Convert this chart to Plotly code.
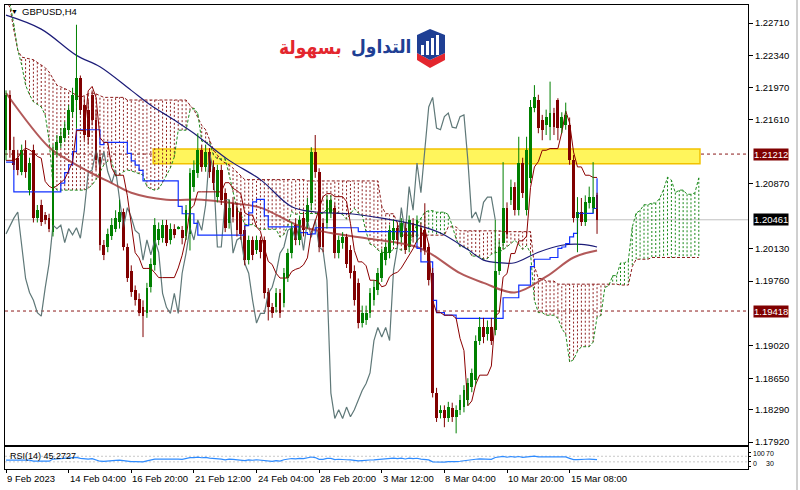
import numpy as np
import plotly.graph_objects as go

# ---------------- data (GBPUSD H4) ----------------
opens = [1.2126,1.2189,1.2126,1.2117,1.2101,1.2126,1.2080,1.2126,1.2048,1.2063,
1.2051,1.2048,1.2032,1.2126,1.2134,1.2140,1.2149,1.2169,1.2183,1.2208,
1.2177,1.2172,1.2189,1.2160,1.2118,1.2017,1.2015,1.2028,1.2036,1.2043,
1.2055,1.2015,1.1988,1.1966,1.1956,1.1946,1.1939,1.1969,1.1994,1.2023,
1.2025,1.2040,1.2023,1.2036,1.2036,1.2034,1.2028,1.2030,1.2084,1.2100,
1.2126,1.2106,1.2123,1.2106,1.2072,1.2103,1.2077,1.2042,1.2065,1.2060,
1.2055,1.2034,1.2000,1.2023,1.2011,1.2023,1.2023,1.1963,1.1946,1.1946,
1.1962,1.1951,1.1980,1.2008,1.2040,1.2023,1.2048,1.2043,1.2065,1.2123,
1.2101,1.2042,1.2042,1.2054,1.2060,1.2008,1.2019,1.2026,1.2011,1.1988,
1.1974,1.1928,1.1931,1.1939,1.1954,1.1966,1.1980,1.2000,1.2008,1.2023,
1.2037,1.2026,1.2037,1.2015,1.2042,1.2026,1.2037,1.2034,1.2015,1.1985,
1.1848,1.1825,1.1829,1.1819,1.1831,1.1821,1.1829,1.1832,1.1840,1.1855,
1.1863,1.1908,1.1923,1.1916,1.1923,1.1920,1.1988,1.2019,1.2060,1.2069,
1.2084,1.2057,1.2111,1.2057,1.2094,1.2174,1.2183,1.2160,1.2154,1.2152,
1.2168,1.2183,1.2151,1.2154,1.2154,1.2114,1.2048,1.2055,1.2043,1.2065,
1.2059,1.2074]
highs = [1.2194,1.2194,1.2141,1.2126,1.2132,1.2137,1.2117,1.2132,1.2063,1.2069,
1.2055,1.2053,1.2132,1.2143,1.2151,1.2158,1.2177,1.2197,1.2269,1.2211,
1.2185,1.2183,1.2194,1.2172,1.2126,1.2023,1.2036,1.2048,1.2057,1.2069,
1.2059,1.2019,1.1994,1.1971,1.1962,1.1954,1.1974,1.2002,1.2048,1.2043,
1.2046,1.2046,1.2042,1.2041,1.2039,1.2039,1.2063,1.2105,1.2114,1.2145,
1.2132,1.2132,1.2128,1.2114,1.2109,1.2109,1.2082,1.2069,1.2072,1.2066,
1.2059,1.2039,1.2028,1.2027,1.2028,1.2027,1.2027,1.1968,1.1951,1.1968,
1.1967,1.1991,1.2013,1.2043,1.2048,1.2051,1.2055,1.2071,1.2129,1.2143,
1.2105,1.2048,1.2074,1.2074,1.2065,1.2028,1.2032,1.2030,1.2017,1.1994,
1.1979,1.1948,1.1948,1.1968,1.1977,1.1991,1.2013,1.2020,1.2040,1.2046,
1.2043,1.2048,1.2043,1.2051,1.2048,1.2051,1.2043,1.2065,1.2019,1.1991,
1.1854,1.1834,1.1834,1.1838,1.1837,1.1834,1.1846,1.1857,1.1865,1.1876,
1.1914,1.1935,1.1934,1.1931,1.1934,1.2046,1.2023,1.2112,1.2066,1.2092,
1.2089,1.2141,1.2117,1.2141,1.2183,1.2200,1.2189,1.2166,1.2172,1.2204,
1.2174,1.2185,1.2169,1.2180,1.2163,1.2120,1.2072,1.2071,1.2074,1.2084,
1.2112,1.2077]
lows = [1.2114,1.2117,1.2103,1.2097,1.2097,1.2094,1.2074,1.2043,1.2043,1.2039,
1.2041,1.2032,1.2027,1.2118,1.2128,1.2135,1.2143,1.2163,1.2151,1.2166,
1.2137,1.2132,1.2154,1.2103,1.2011,1.2000,1.2009,1.2023,1.2032,1.2036,
1.2011,1.1975,1.1958,1.1948,1.1936,1.1912,1.1934,1.1963,1.1988,1.2017,
1.2020,1.2016,1.2018,1.2025,1.2035,1.2018,1.2023,1.2011,1.2078,1.2094,
1.2101,1.2101,1.2094,1.2080,1.2066,1.2063,1.2032,1.2036,1.2043,1.2027,
1.2023,1.1994,1.1995,1.2000,1.2007,1.2002,1.1956,1.1931,1.1934,1.1940,
1.1934,1.1946,1.1975,1.2002,1.2017,1.2017,1.2027,1.2036,1.2057,1.2094,
1.2009,1.2009,1.2036,1.2048,1.2002,1.2002,1.2013,1.1991,1.1979,1.1948,
1.1922,1.1923,1.1926,1.1934,1.1948,1.1960,1.1975,1.1994,1.2002,1.2017,
1.2017,1.2020,1.2007,1.2009,1.2020,1.2020,1.2009,1.2006,1.1971,1.1843,
1.1815,1.1819,1.1809,1.1815,1.1815,1.1802,1.1823,1.1826,1.1834,1.1849,
1.1857,1.1903,1.1905,1.1908,1.1903,1.1914,1.1983,1.2013,1.2025,1.2063,
1.2051,1.2051,1.2071,1.2051,1.2088,1.2169,1.2145,1.2137,1.2143,1.2137,
1.2143,1.2137,1.2145,1.2149,1.2109,1.2043,1.2009,1.2039,1.2039,1.2059,
1.2054,1.2030]
closes = [1.2189,1.2126,1.2109,1.2103,1.2126,1.2101,1.2111,1.2048,1.2057,1.2043,
1.2046,1.2036,1.2126,1.2135,1.2142,1.2151,1.2172,1.2189,1.2208,1.2172,
1.2143,1.2141,1.2160,1.2114,1.2017,1.2006,1.2030,1.2040,1.2048,1.2055,
1.2015,1.1979,1.1963,1.1954,1.1940,1.1936,1.1968,1.1996,1.2040,1.2036,
1.2040,1.2020,1.2036,1.2029,1.2037,1.2025,1.2057,1.2100,1.2103,1.2126,
1.2106,1.2124,1.2101,1.2088,1.2103,1.2069,1.2037,1.2060,1.2049,1.2034,
1.2030,1.2000,1.2023,1.2006,1.2023,1.2009,1.1962,1.1946,1.1939,1.1962,
1.1939,1.1985,1.2008,1.2037,1.2023,1.2046,1.2034,1.2063,1.2123,1.2101,
1.2015,1.2015,1.2069,1.2069,1.2008,1.2023,1.2026,1.1996,1.1985,1.1954,
1.1928,1.1939,1.1939,1.1962,1.1969,1.1985,1.2008,1.2015,1.2034,1.2037,
1.2023,1.2042,1.2011,1.2046,1.2026,1.2046,1.2015,1.2011,1.1977,1.1848,
1.1819,1.1829,1.1819,1.1832,1.1821,1.1829,1.1840,1.1851,1.1859,1.1871,
1.1908,1.1923,1.1912,1.1923,1.1908,1.1988,1.2015,1.2060,1.2030,1.2084,
1.2057,1.2111,1.2077,1.2126,1.2175,1.2186,1.2151,1.2149,1.2164,1.2168,
1.2152,1.2151,1.2164,1.2166,1.2114,1.2048,1.2055,1.2043,1.2066,1.2072,
1.2072,1.20461]

# indicator values before enough history exists
tenkan_prefix = [1.2114,1.2114,1.2114,1.2117,1.2124,1.2128,1.2126,1.2123]
kijun_prefix = [1.2112,1.2112] + [1.2078]*12 + [1.2088,1.2100,1.2109,1.2124] + [1.2149]*6 + [1.2132]
senkou_a_prefix = [1.2297,1.2294,1.2269,1.2240,1.2223,1.2200,1.2189,1.2181,1.2178,1.2175,
                   1.2166,1.2137,1.2086,1.2080,1.2080,1.2080,1.2080,1.2080,1.2080,1.2080,
                   1.2080,1.2082,1.2086,1.2092,1.2101,1.2109]
senkou_b_prefix = ([1.2297,1.2289,1.2263,1.2240,1.2232,1.2231,1.2230,1.2229,1.2226,1.2223,
                    1.2220,1.2215,1.2208,1.2200,1.2198,1.2196,1.2194,1.2191,1.2188,1.2186,
                    1.2188,1.2190,1.2191,1.2190,1.2188] + [1.2186]*6 + [1.2183]*16 +
                   [1.2177,1.2172,1.2163,1.2154,1.2149,1.2137,1.2126,1.2120,1.2114,1.2111,
                    1.2109,1.2105,1.2101,1.2096] + [1.2092]*16)

# moving averages (bar index, price)
ma_slow_idx = [0,9,18,24,32,37,43,48,57,65,73,79,88,96,105,111,118,122,126,130,136,142,147,151]
ma_slow_val = [1.2280,1.2264,1.2234,1.2221,1.2194,1.2177,1.2160,1.2145,1.2114,1.2092,1.2061,1.2055,
               1.2053,1.2048,1.2040,1.2031,1.2012,1.2000,1.1997,1.1997,1.2009,1.2017,1.2018,1.2015]
ma_fast_idx = [0,11,16,22,27,32,41,50,58,65,75,83,92,105,109,116,122,130,138,145,151]
ma_fast_val = [1.2191,1.2129,1.2114,1.2099,1.2088,1.2077,1.2069,1.2069,1.2065,1.2060,1.2039,1.2031,
               1.2025,1.2015,1.2006,1.1985,1.1974,1.1963,1.1981,1.2003,1.2011]

levels_dashed = [1.21212, 1.19418]
current_price = 1.20461
zone_start, zone_end = 37.6, 177.3
zone_low, zone_high = 1.2110, 1.2127

price_ticks = [1.22710,1.22340,1.21970,1.21610,1.20870,1.20130,
               1.19760,1.19020,1.18650,1.18290,1.17920]
rsi_ticks = [0, 30, 70, 100]
date_idx = [0,16,32,48,64,80,96,112,128,144]
date_labels = ["9 Feb 2023","14 Feb 04:00","16 Feb 20:00","21 Feb 12:00","24 Feb 04:00",
               "28 Feb 20:00","3 Mar 12:00","8 Mar 04:00","10 Mar 20:00","15 Mar 08:00"]

# ---------------- derived indicators ----------------
n = len(closes)
idx = list(range(n))

def hl_mid(i0, i1):
    return (max(highs[i0:i1 + 1]) + min(lows[i0:i1 + 1])) / 2

tenkan = [tenkan_prefix[i] if i < 8 else hl_mid(i - 8, i) for i in range(n)]
kijun = [kijun_prefix[i] if i < 25 else hl_mid(i - 25, i) for i in range(n)]
nc = n + 26
span_a = [senkou_a_prefix[j] if j < 26 else (tenkan[j - 26] + kijun[j - 26]) / 2 for j in range(nc)]
span_b = [senkou_b_prefix[j] if j < 77 else hl_mid(j - 77, j - 26) for j in range(nc)]
chikou_x = [i - 26 for i in range(26, n)]
chikou_y = closes[26:]

deltas = np.diff(closes)
ag = al = np.mean(np.abs(deltas[:14])) / 2
rsi = []
for d in deltas:
    ag = (ag * 13 + max(d, 0)) / 14
    al = (al * 13 + max(-d, 0)) / 14
    rsi.append(100 - 100 / (1 + ag / al))
rsi = [rsi[0]] + rsi

# ---------------- figure ----------------
W, H = 800, 490
L, R, T, B = 5, 52, 5, 21
PW, PH = W - L - R, H - T - B
def px(x): return (x - L) / PW
def py(y): return (H - B - y) / PH

MAROON = "#800000"
GREEN = "#008000"
fig = go.Figure()

# cloud hatch
hx = {"m": [], "g": []}
hy = {"m": [], "g": []}
for j in range(nc):
    k = "m" if span_b[j] >= span_a[j] else "g"
    hx[k] += [j, j, None]
    hy[k] += [span_a[j], span_b[j], None]
fig.add_trace(go.Scatter(x=hx["m"], y=hy["m"], mode="lines",
                         line=dict(color="#8E2222", width=1, dash="2px,2px"), hoverinfo="skip"))
fig.add_trace(go.Scatter(x=hx["g"], y=hy["g"], mode="lines",
                         line=dict(color="#168716", width=1, dash="2px,2px"), hoverinfo="skip"))
fig.add_trace(go.Scatter(x=list(range(nc)), y=span_b, mode="lines",
                         line=dict(color="#8B1A1A", width=1, dash="3px,2px"), hoverinfo="skip"))
fig.add_trace(go.Scatter(x=list(range(nc)), y=span_a, mode="lines",
                         line=dict(color="#1E8C1E", width=1, dash="3px,2px"), hoverinfo="skip"))

# chikou, MAs, kijun, tenkan
fig.add_trace(go.Scatter(x=chikou_x, y=chikou_y, mode="lines",
                         line=dict(color="#5F7878", width=1.2), hoverinfo="skip"))
fig.add_trace(go.Scatter(x=ma_slow_idx, y=ma_slow_val, mode="lines", line_shape="spline",
                         line=dict(color="#1C1C78", width=1.2), hoverinfo="skip"))
fig.add_trace(go.Scatter(x=ma_fast_idx, y=ma_fast_val, mode="lines", line_shape="spline",
                         line=dict(color="rgba(165,60,60,0.85)", width=2), hoverinfo="skip"))
fig.add_trace(go.Scatter(x=idx, y=kijun, mode="lines", line_shape="hv",
                         line=dict(color="#1030FF", width=1.2), hoverinfo="skip"))
fig.add_trace(go.Scatter(x=idx, y=tenkan, mode="lines",
                         line=dict(color="#8B0000", width=1), hoverinfo="skip"))

# candles
wick = {"m": ([], []), "g": ([], [])}
body_col, body_base, body_h = [], [], []
for i in idx:
    up = closes[i] >= opens[i]
    k = "g" if up else "m"
    wick[k][0].extend([i, i, None])
    wick[k][1].extend([lows[i], highs[i], None])
    body_col.append(GREEN if up else MAROON)
    body_base.append(min(opens[i], closes[i]))
    body_h.append(max(abs(closes[i] - opens[i]), 0.00006))
fig.add_trace(go.Scatter(x=wick["g"][0], y=wick["g"][1], mode="lines",
                         line=dict(color=GREEN, width=1), hoverinfo="skip"))
fig.add_trace(go.Scatter(x=wick["m"][0], y=wick["m"][1], mode="lines",
                         line=dict(color=MAROON, width=1), hoverinfo="skip"))
fig.add_trace(go.Bar(x=idx, y=body_h, base=body_base, width=0.72,
                     marker=dict(color=body_col, line=dict(width=0)), hoverinfo="skip"))

# RSI
fig.add_trace(go.Scatter(x=idx, y=rsi, mode="lines", xaxis="x2", yaxis="y2",
                         line=dict(color="#2E8BFF", width=1.2), hoverinfo="skip"))

shapes = []
shapes.append(dict(type="rect", xref="x", yref="y", x0=zone_start, x1=zone_end,
                   y0=zone_low, y1=zone_high, fillcolor="#FFF55C",
                   line=dict(color="#F2C200", width=1.5), layer="below"))
for lv in levels_dashed:
    shapes.append(dict(type="line", xref="paper", yref="y", x0=0, x1=1, y0=lv, y1=lv,
                       line=dict(color="#8B1A1A", width=1, dash="3px,3px"), layer="below"))
shapes.append(dict(type="line", xref="paper", yref="y", x0=0, x1=1, y0=current_price,
                   y1=current_price, line=dict(color="#C0C0C0", width=1), layer="below"))
for lv in (30, 70):
    shapes.append(dict(type="line", xref="paper", yref="y2", x0=0, x1=1, y0=lv, y1=lv,
                       line=dict(color="#C8C8C8", width=1, dash="2px,2px"), layer="below"))
shapes.append(dict(type="line", xref="paper", yref="paper", x0=px(797), x1=px(797),
                   y0=py(0), y1=py(490), line=dict(color="#A0A0A0", width=1)))

# logo icon
def path(pts):
    return "M " + " L ".join(f"{px(a):.5f},{py(b):.5f}" for a, b in pts) + " Z"
shapes.append(dict(type="path", xref="paper", yref="paper",
                   path=path([(430, 60), (445, 53), (445, 60), (430, 68), (417, 60), (417, 53)]),
                   fillcolor="#E3262E", line=dict(width=0)))
shapes.append(dict(type="path", xref="paper", yref="paper",
                   path=path([(417, 35), (430, 29), (445, 35), (445, 53), (430, 60), (417, 53)]),
                   fillcolor="#1F3F94", line=dict(width=0)))
for x0, y0 in [(421, 45), (426, 41), (431, 38), (436, 35)]:
    shapes.append(dict(type="rect", xref="paper", yref="paper", x0=px(x0), x1=px(x0 + 3),
                       y0=py(y0), y1=py(55), fillcolor="white", line=dict(width=0)))

ann = []
fnt = "Liberation Sans, Arial, sans-serif"
for i, t in zip(date_idx, date_labels):
    ann.append(dict(x=i, xref="x2", y=py(478), yref="paper", text=t, showarrow=False,
                    xanchor="left", yanchor="middle", xshift=-1,
                    font=dict(family=fnt, size=9.5, color="black")))
for lv, bg in [(1.21212, MAROON), (1.19418, MAROON), (current_price, "black")]:
    ann.append(dict(x=1, xref="paper", y=lv, yref="y", text=f"{lv:.5f}", showarrow=False,
                    xanchor="left", yanchor="middle", xshift=5, bgcolor=bg, borderpad=0,
                    font=dict(family=fnt, size=9.5, color="white")))
ann.append(dict(x=px(9), xref="paper", y=py(11), yref="paper", text="▼", showarrow=False,
                xanchor="left", yanchor="middle", font=dict(size=7, color="black")))
ann.append(dict(x=px(20), xref="paper", y=py(11), yref="paper", text="GBPUSD,H4",
                showarrow=False, xanchor="left", yanchor="middle",
                font=dict(family=fnt, size=9.5, color="black")))
ann.append(dict(x=px(8), xref="paper", y=py(456), yref="paper", text="RSI(14) 45.2727",
                showarrow=False, xanchor="left", yanchor="middle",
                font=dict(family=fnt, size=9, color="black")))
# RSI scale labels
for v, yy, xs in [(100, 453, 751), (70, 453, 764), (30, 463, 764), (0, 463, 751)]:
    ann.append(dict(x=px(xs), xref="paper", y=py(yy), yref="paper", text=str(v),
                    showarrow=False, xanchor="left", yanchor="middle",
                    font=dict(family=fnt, size=7, color="black")))
ann.append(dict(x=px(413), xref="paper", y=py(46), yref="paper", text="<b>التداول</b>",
                showarrow=False, xanchor="right", yanchor="middle",
                font=dict(family="DejaVu Sans Condensed, DejaVu Sans", size=19, color="#1F3F94")))
ann.append(dict(x=px(344), xref="paper", y=py(47), yref="paper", text="<b>بسهولة</b>",
                showarrow=False, xanchor="right", yanchor="middle",
                font=dict(family="DejaVu Sans Condensed, DejaVu Sans", size=19, color="#E3262E")))

ymin = 1.22973 - 445 * 0.0001143
ymax = 1.22973 - 5 * 0.0001143
xr = [-0.26, 189.57]
main_dom = [(469 - 445) / PH, 1.0]
rsi_dom = [0.0, (469 - 447) / PH]

fig.update_layout(
    width=W, height=H, margin=dict(l=L, r=R, t=T, b=B, autoexpand=False),
    paper_bgcolor="white", plot_bgcolor="white", showlegend=False, bargap=0,
    shapes=shapes, annotations=ann,
    xaxis=dict(domain=[0, 1], range=xr, anchor="y", showline=True, mirror=True,
               linecolor="black", linewidth=1, showgrid=False, zeroline=False,
               showticklabels=False, ticks="", automargin=False),
    yaxis=dict(domain=main_dom, range=[ymin, ymax], side="right", showline=True, mirror=True,
               linecolor="black", linewidth=1, showgrid=False, zeroline=False,
               tickvals=price_ticks, ticktext=[f"{v:.5f}" for v in price_ticks],
               ticks="outside", ticklen=4, tickcolor="black", automargin=False,
               tickfont=dict(family=fnt, size=9.5, color="black")),
    xaxis2=dict(domain=[0, 1], range=xr, anchor="y2", matches="x", showline=True, mirror=True,
                linecolor="black", linewidth=1, showgrid=False, zeroline=False,
                tickvals=date_idx, ticktext=[""] * len(date_idx), ticks="outside",
                ticklen=3, tickcolor="black", automargin=False),
    yaxis2=dict(domain=rsi_dom, range=[-21, 136], side="right", showline=True, mirror=True,
                linecolor="black", linewidth=1, showgrid=False, zeroline=False,
                tickvals=rsi_ticks, showticklabels=False,
                ticks="outside", ticklen=2, tickcolor="black", automargin=False),
)

fig.write_html("out.html", config={"displayModeBar": False},
               post_script="document.body.style.margin='0';document.body.style.overflow='hidden';")
